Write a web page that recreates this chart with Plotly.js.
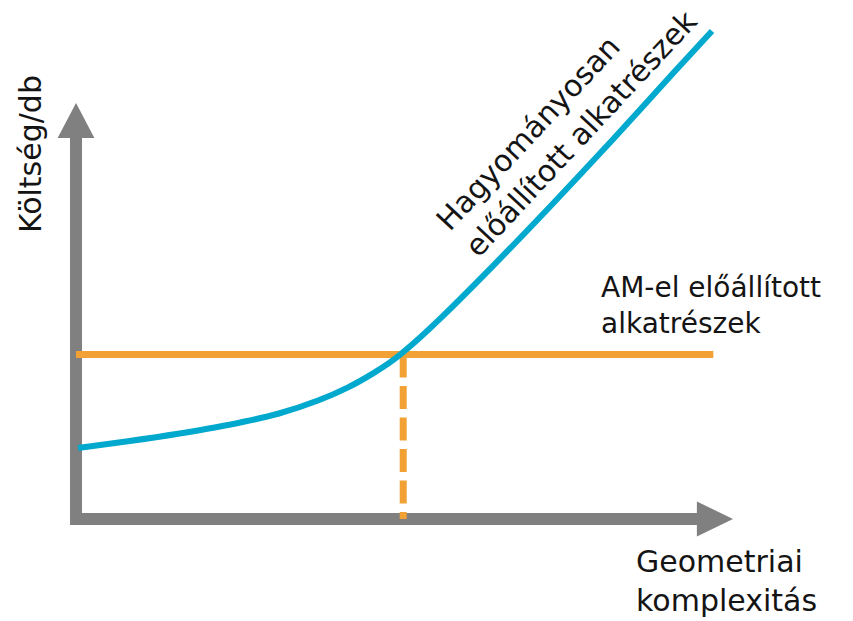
<!DOCTYPE html>
<html>
<head>
<meta charset="utf-8">
<script src="https://cdn.plot.ly/plotly-3.0.1.min.js"></script>
<style>html,body{margin:0;padding:0;background:#fff;}#chart{width:853px;height:621px;}</style>
</head>
<body>
<div id="chart"></div>
<script>
// Conventional curve ("Hagyományosan előállított alkatrészek"): cost vs complexity
const tradX = [0.30, 7.91, 15.53, 23.14, 30.75, 36.83, 41.40, 45.21, 48.25, 51.29, 55.86, 63.47, 72.60, 81.74, 90.87, 96.80];
const tradY = [14.20, 15.55, 17.05, 18.80, 21.05, 23.69, 26.33, 29.13, 31.77, 35.05, 40.63, 50.63, 63.11, 75.95, 89.15, 97.60];
// AM parts: constant cost
const amX = [0, 97];
const amY = [32.9, 32.9];
// Break-even point (dashed drop line)
const breakX = [49.8, 49.8];
const breakY = [32.9, 0];
// Axis arrows (decoration)
const yAxisShaftTop = 77;
const yArrowBase = 76.2, yArrowTip = 83.2, yArrowHalf = 2.8;
const xAxisShaftEnd = 95;
const xArrowBase = 94.5, xArrowTip = 100, xArrowHalf = 3.5;
// Texts
const yLabel = 'Költség/db';
const xLabel = 'Geometriai<br>komplexitás';
const amLabel = 'AM-el előállított<br>alkatrészek';
const tradLabel = 'Hagyományosan<br>előállított alkatrészek';

const gray = '#808080', blue = '#00a9cd', orange = '#f2a134';
const fontOf = (s) => ({family: 'DejaVu Sans', size: s, color: '#141414'});

const traces = [
  {x: amX, y: amY, mode: 'lines', line: {color: orange, width: 7}, hoverinfo: 'skip'},
  {x: breakX, y: breakY, mode: 'lines', line: {color: orange, width: 7, dash: '23px,8.5px'}, hoverinfo: 'skip'},
  {x: tradX, y: tradY, mode: 'lines', line: {color: blue, width: 6, shape: 'spline', smoothing: 0.8}, hoverinfo: 'skip'}
];

const shapes = [
  {type: 'path', xref: 'x', yref: 'y', layer: 'below',
   path: `M0,${yAxisShaftTop} L0,0 L${xAxisShaftEnd},0`,
   line: {color: gray, width: 12}},
  {type: 'path', xref: 'x', yref: 'y', layer: 'below',
   path: `M${-yArrowHalf},${yArrowBase} L0,${yArrowTip} L${yArrowHalf},${yArrowBase} Z`,
   fillcolor: gray, line: {width: 0}},
  {type: 'path', xref: 'x', yref: 'y', layer: 'below',
   path: `M${xArrowBase},${-xArrowHalf} L${xArrowTip},0 L${xArrowBase},${xArrowHalf} Z`,
   fillcolor: gray, line: {width: 0}}
];

const annotations = [
  {x: -7.0, y: 73.0, xref: 'x', yref: 'y', text: yLabel, showarrow: false, textangle: -90,
   xanchor: 'center', yanchor: 'middle', font: fontOf(30)},
  {x: 84.9, y: -12.4, xref: 'x', yref: 'y', text: xLabel, showarrow: false, align: 'left',
   xanchor: 'left', yanchor: 'middle', font: fontOf(30)},
  {x: 79.6, y: 42.8, xref: 'x', yref: 'y', text: amLabel, showarrow: false, align: 'left',
   xanchor: 'left', yanchor: 'middle', font: fontOf(28)},
  {x: 74.7, y: 79.8, xref: 'x', yref: 'y', text: tradLabel, showarrow: false, align: 'left',
   textangle: -47, xanchor: 'center', yanchor: 'middle', font: fontOf(30)}
];

const layout = {
  width: 853, height: 621,
  margin: {l: 0, r: 0, t: 0, b: 0},
  paper_bgcolor: '#ffffff', plot_bgcolor: '#ffffff',
  showlegend: false,
  xaxis: {range: [-11.57, 118.26], visible: false, fixedrange: true},
  yaxis: {range: [-20.4, 103.8], visible: false, fixedrange: true},
  shapes: shapes,
  annotations: annotations
};

Plotly.newPlot('chart', traces, layout, {displayModeBar: false, staticPlot: true});
</script>
</body>
</html>
